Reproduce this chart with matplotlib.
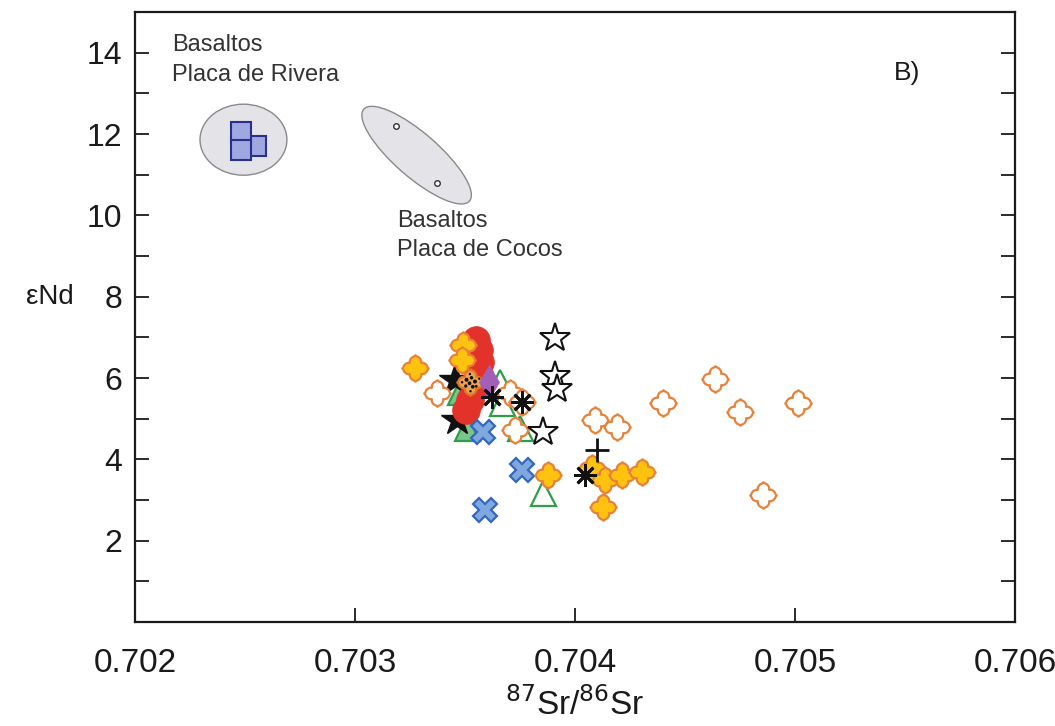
import numpy as np
import matplotlib
matplotlib.use("Agg")
import matplotlib.pyplot as plt
from matplotlib.path import Path
from matplotlib.patches import Ellipse
from matplotlib.transforms import ScaledTranslation

plt.rcParams['font.family'] = ['Liberation Sans', 'DejaVu Sans']

# ---------------- data (87Sr/86Sr, eNd) ----------------
yellow_x = [0.703273, 0.703491, 0.703486, 0.703877, 0.704077, 0.704136, 0.704214, 0.704305, 0.704127]
yellow_y = [6.25, 6.81, 6.44, 3.61, 3.79, 3.49, 3.61, 3.69, 2.83]

hollow_x = [0.703373, 0.703705, 0.703760, 0.703727, 0.704091, 0.704191, 0.704400, 0.704636, 0.704750, 0.705014, 0.704855]
hollow_y = [5.63, 5.62, 5.41, 4.72, 4.97, 4.79, 5.38, 5.97, 5.16, 5.38, 3.12]

leopard_x = [0.703523]
leopard_y = [5.90]

red_x = [0.703550, 0.703562, 0.703568, 0.703562, 0.703555, 0.703523, 0.703505]
red_y = [6.93, 6.70, 6.39, 6.10, 5.83, 5.46, 5.21]

star_fill_x = [0.703455, 0.703464]
star_fill_y = [5.95, 4.97]

star_open_x = [0.703909, 0.703909, 0.703918, 0.703855]
star_open_y = [6.98, 6.05, 5.73, 4.67]

purple_x = [0.703609]
purple_y = [5.90]

aster_x = [0.703623, 0.703760, 0.704045]
aster_y = [5.53, 5.41, 3.61]

plus_x = [0.704100]
plus_y = [4.23]

tri_open_x = [0.703659, 0.703668, 0.703750, 0.703855]
tri_open_y = [5.90, 5.38, 4.77, 3.17]

tri_fill_x = [0.703477, 0.703509]
tri_fill_y = [5.66, 4.77]

xblue_x = [0.703582, 0.703759, 0.703591]
xblue_y = [4.67, 3.74, 2.75]

rivera_x = [0.702550, 0.702482, 0.702482]
rivera_y = [11.70, 12.05, 11.60]

cocos_x = [0.703186, 0.703373]
cocos_y = [12.20, 10.79]

x_ticks = [0.702, 0.703, 0.704, 0.705, 0.706]
x_ticklabels = ['0.702', '0.703', '0.704', '0.705', '0.706']
y_ticks = [2, 4, 6, 8, 10, 12, 14]


# ---------------- marker shapes ----------------
def quatrefoil_path(d=0.52, rho=0.46, c=0.55, n=400):
    th = np.linspace(0, 2 * np.pi, n, endpoint=False)
    r = np.full_like(th, c)
    for k in range(4):
        phi = np.angle(np.exp(1j * (th - k * np.pi / 2)))
        s = d * np.sin(phi)
        ok = (np.abs(s) <= rho) & (np.cos(phi) > 0)
        rr = np.where(ok, d * np.cos(phi) + np.sqrt(np.clip(rho ** 2 - s ** 2, 0, None)), 0)
        tip = 0.08 * np.clip(1 - np.abs(phi) / 0.12, 0, None)
        r = np.maximum(r, rr + np.where(ok, tip, 0))
    verts = np.column_stack([r * np.cos(th), r * np.sin(th)])
    verts = np.vstack([verts, verts[:1]])
    codes = [Path.MOVETO] + [Path.LINETO] * (len(verts) - 2) + [Path.CLOSEPOLY]
    return Path(verts, codes)


QUAT = quatrefoil_path()
qmax = np.max(np.abs(QUAT.vertices))


def spots_path():
    spots = [(-0.32, 0.22, 0.16), (0.08, 0.38, 0.14), (0.36, 0.08, 0.16),
             (-0.08, -0.06, 0.15), (0.18, -0.34, 0.15), (-0.38, -0.28, 0.13),
             (0.46, -0.30, 0.11), (-0.05, 0.68, 0.10), (0.0, -0.70, 0.10),
             (-0.68, 0.02, 0.10), (0.70, 0.30, 0.09)]
    paths = [Path.circle((x, y), r) for x, y, r in spots]
    comp = Path.make_compound_path(*paths)
    verts = np.vstack([[[qmax, 0.0]], comp.vertices])
    codes = np.concatenate([[Path.MOVETO], comp.codes])
    return Path(verts, codes)


SPOTS = spots_path()

# ---------------- figure ----------------
fig = plt.figure(figsize=(10.55, 7.26), dpi=100)
ax = fig.add_axes([135 / 1055, 1 - 622 / 726, 880 / 1055, 610 / 726])
ax.set_xlim(0.702, 0.706)
ax.set_ylim(0, 15)

# fields
riv = Ellipse((0.702493, 11.86), width=0.000395, height=1.746,
              facecolor='#E3E3E8', edgecolor='#8A8A8A', lw=1.0, zorder=1)
ax.add_patch(riv)
coc = Ellipse((0, 0), width=1.40, height=0.44, angle=-41,
              facecolor='#E3E3E8', edgecolor='#8A8A8A', lw=1.0, zorder=1,
              transform=fig.dpi_scale_trans + ScaledTranslation(0.703280, 11.48, ax.transData))
ax.add_patch(coc)

ax.plot(rivera_x, rivera_y, ls='none', marker='s', ms=15, mfc='#9FA8E0', mec='#2A2E8C', mew=1.5, zorder=2)
ax.plot(cocos_x, cocos_y, ls='none', marker='o', ms=4, mfc='white', mec='#333333', mew=1.0, zorder=2)

ax.text(0.702168, 14.45, 'Basaltos\nPlaca de Rivera', fontsize=17, color='#333333',
        ha='left', va='top', linespacing=1.45)
ax.text(0.702170 + (397 - 172) / 220000, (622 - 210) / 40.67, 'Basaltos\nPlaca de Cocos', fontsize=17,
        color='#333333', ha='left', va='top', linespacing=1.4)
ax.text(0.70551, 13.5, 'B)', fontsize=19, color='#1a1a1a', ha='center', va='center')

# samples
ax.plot(tri_fill_x, tri_fill_y, ls='none', marker='^', ms=18, mfc='#7CC48A', mec='#2E9E4A', mew=1.6, zorder=3)
ax.plot(star_fill_x, star_fill_y, ls='none', marker='*', ms=24, mfc='#111111', mec='#111111', mew=1, zorder=3)
ax.plot(red_x, red_y, ls='none', marker='o', ms=20, mfc='#E3322A', mec='#E3322A', mew=0.5, zorder=4)
ax.plot(tri_open_x, tri_open_y, ls='none', marker='^', ms=18, mfc='none', mec='#2E9E4A', mew=1.6, zorder=5)
ax.plot(xblue_x, xblue_y, ls='none', marker='X', ms=17, mfc='#7FA8DF', mec='#3468C0', mew=1.6, zorder=5)
ax.plot(hollow_x, hollow_y, ls='none', marker=QUAT, ms=19, mfc='white', mec='#E8823A', mew=1.6, zorder=5)
ax.plot(yellow_x, yellow_y, ls='none', marker=QUAT, ms=19, mfc='#FFC20E', mec='#E8823A', mew=1.6, zorder=6)
ax.plot(leopard_x, leopard_y, ls='none', marker=QUAT, ms=19, mfc='#EFA24A', mec='#E07828', mew=1.6, zorder=7)
ax.plot(leopard_x, leopard_y, ls='none', marker=SPOTS, ms=19, mfc='#111111', mec='none', zorder=7)
ax.plot(star_open_x, star_open_y, ls='none', marker='*', ms=22, mfc='white', mec='#111111', mew=1.5, zorder=6)
ax.plot(purple_x, purple_y, ls='none', marker='d', ms=17, mfc='#A35FB6', mec='#A35FB6', mew=0.5, zorder=7)
ax.plot(aster_x, aster_y, ls='none', marker=(8, 2, 0), ms=16, mec='#111111', mew=2.0, zorder=8)
ax.plot(plus_x, plus_y, ls='none', marker='+', ms=17, mec='#111111', mew=2.0, zorder=8)

# axes styling
for s in ax.spines.values():
    s.set_linewidth(1.6)
    s.set_color('#1a1a1a')

ax.set_xticks(x_ticks)
ax.set_xticklabels(x_ticklabels)
ax.set_yticks(y_ticks)
ax.set_yticks(np.arange(1, 15, 2), minor=True)
ax.tick_params(axis='x', which='both', direction='in', length=10, width=1.3,
               labelsize=24, pad=19, top=False, colors='#1a1a1a')
ax.tick_params(axis='y', which='both', direction='in', length=10, width=1.3,
               labelsize=23, pad=9, right=True, colors='#1a1a1a')

ax.set_xlabel(r'$^{87}$Sr/$^{86}$Sr', fontsize=24, color='#1a1a1a')
ax.xaxis.set_label_coords(0.5, -(705 - 622) / 610)
ax.xaxis.label.set_va('center')
ax.set_ylabel('εNd', fontsize=20, rotation=0, color='#1a1a1a')
ax.yaxis.set_label_coords((50 - 135) / 880, (622 - 297) / 610)
ax.yaxis.label.set_va('center')
ax.yaxis.label.set_ha('center')

fig.savefig('out.png', dpi=100)
